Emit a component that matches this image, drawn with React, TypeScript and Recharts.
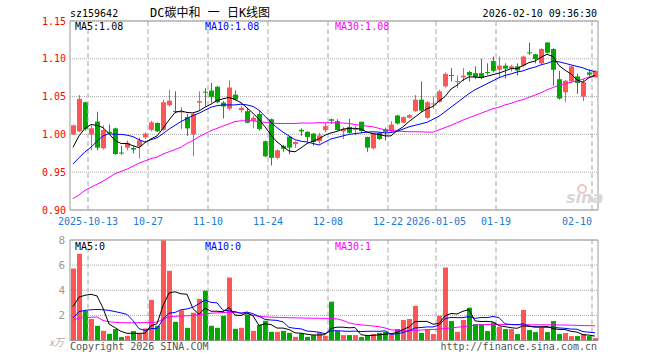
import { Bar, CartesianGrid, ComposedChart, Line, ReferenceArea, ReferenceLine, XAxis, YAxis } from 'recharts';

const dates = [
  '2025-09-30', '2025-10-09', '2025-10-10',
  '2025-10-13', '2025-10-14', '2025-10-15', '2025-10-16', '2025-10-17',
  '2025-10-20', '2025-10-21', '2025-10-22', '2025-10-23', '2025-10-24',
  '2025-10-27', '2025-10-28', '2025-10-29', '2025-10-30', '2025-10-31',
  '2025-11-03', '2025-11-04', '2025-11-05', '2025-11-06', '2025-11-07',
  '2025-11-10', '2025-11-11', '2025-11-12', '2025-11-13', '2025-11-14',
  '2025-11-17', '2025-11-18', '2025-11-19', '2025-11-20', '2025-11-21',
  '2025-11-24', '2025-11-25', '2025-11-26', '2025-11-27', '2025-11-28',
  '2025-12-01', '2025-12-02', '2025-12-03', '2025-12-04', '2025-12-05',
  '2025-12-08', '2025-12-09', '2025-12-10', '2025-12-11', '2025-12-12',
  '2025-12-15', '2025-12-16', '2025-12-17', '2025-12-18', '2025-12-19',
  '2025-12-22', '2025-12-23', '2025-12-24', '2025-12-25', '2025-12-26',
  '2025-12-29', '2025-12-30', '2025-12-31',
  '2026-01-05', '2026-01-06', '2026-01-07', '2026-01-08', '2026-01-09',
  '2026-01-12', '2026-01-13', '2026-01-14', '2026-01-15', '2026-01-16',
  '2026-01-19', '2026-01-20', '2026-01-21', '2026-01-22', '2026-01-23',
  '2026-01-26', '2026-01-27', '2026-01-28', '2026-01-29', '2026-01-30',
  '2026-02-02', '2026-02-03', '2026-02-04', '2026-02-05', '2026-02-06',
  '2026-02-09', '2026-02-10',
];

const openP = [
  1.000, 1.004, 1.0425, 1.000, 1.017, 0.9816, 1.0035, 1.008, 0.976, 0.9825,
  0.982, 0.984, 0.996, 1.006, 1.015, 1.006, 1.0386, 1.031, 1.029, 1.023,
  1.000, 1.042, 1.0565, 1.058, 1.063, 1.042, 1.034, 1.0526, 1.032, 1.0307,
  1.018, 1.027, 0.991, 1.020, 0.969, 0.9846, 0.997, 0.987, 1.006, 1.0035,
  1.001, 0.991, 1.0057, 1.020, 1.0175, 1.004, 1.010, 1.006, 1.0167, 0.9965,
  0.9816, 1.002, 1.0066, 1.0044, 1.025, 1.0154, 1.022, 1.0307, 1.046, 1.022,
  1.040, 1.043, 1.0636, 1.0785, 1.0695, 1.0755, 1.0825, 1.081, 1.081, 1.0825,
  1.097, 1.0855, 1.091, 1.087, 1.090, 1.091, 1.1085, 1.106, 1.094, 1.1215,
  1.113, 1.073, 1.0557, 1.070, 1.0767, 1.050, 1.082, 1.0755,
];
const highP = [
  1.013, 1.052, 1.043, 1.012, 1.030, 1.012, 1.013, 1.009, 0.985, 0.992,
  0.984, 0.996, 1.003, 1.018, 1.016, 1.046, 1.059, 1.057, 1.036, 1.027,
  1.029, 1.057, 1.061, 1.068, 1.064, 1.044, 1.0715, 1.058, 1.038, 1.035,
  1.025, 1.032, 0.992, 1.021, 0.980, 0.986, 0.998, 0.991, 1.008, 1.004,
  1.002, 1.002, 1.015, 1.021, 1.020, 1.0096, 1.0206, 1.011, 1.017, 0.997,
  1.002, 1.003, 1.009, 1.0175, 1.026, 1.024, 1.027, 1.052, 1.070, 1.044,
  1.050, 1.059, 1.082, 1.0877, 1.078, 1.0877, 1.084, 1.090, 1.100, 1.094,
  1.103, 1.103, 1.094, 1.092, 1.094, 1.104, 1.1215, 1.1066, 1.114, 1.122,
  1.114, 1.084, 1.072, 1.091, 1.080, 1.0737, 1.086, 1.085,
];
const lowP = [
  0.999, 1.003, 1.005, 0.979, 0.979, 0.980, 1.000, 0.973, 0.973, 0.979,
  0.975, 0.968, 0.994, 1.004, 1.003, 1.004, 1.037, 1.028, 1.007, 0.998,
  0.971, 1.031, 1.037, 1.042, 1.041, 1.021, 1.032, 1.045, 1.029, 1.015,
  1.008, 1.005, 0.970, 0.959, 0.967, 0.977, 0.974, 0.982, 0.998, 0.990,
  0.985, 0.988, 1.003, 1.014, 1.005, 0.994, 1.001, 0.999, 1.002, 0.977,
  0.980, 0.9925, 0.992, 1.003, 1.013, 1.015, 1.021, 1.030, 1.030, 1.0205,
  1.034, 1.042, 1.062, 1.070, 1.061, 1.070, 1.070, 1.073, 1.073, 1.079,
  1.082, 1.0746, 1.074, 1.083, 1.078, 1.089, 1.105, 1.094, 1.093, 1.107,
  1.0645, 1.046, 1.0425, 1.069, 1.0535, 1.044, 1.077, 1.075,
];
const closeP = [
  1.012, 1.047, 1.007, 1.008, 0.9825, 1.0057, 1.002, 0.974, 0.975, 0.989,
  0.980, 0.992, 1.001, 1.016, 1.004, 1.0425, 1.0447, 1.030, 1.031, 1.008,
  1.027, 1.044, 1.0555, 1.0496, 1.0425, 1.037, 1.062, 1.046, 1.035, 1.0154,
  1.022, 1.007, 0.971, 0.969, 0.979, 0.981, 0.9825, 0.990, 1.004, 0.9965,
  0.990, 0.9987, 1.011, 1.018, 1.0057, 1.007, 1.002, 1.007, 1.0044, 0.9825,
  1.0013, 0.994, 1.0035, 1.013, 1.0145, 1.0228, 1.0254, 1.046, 1.0316, 1.0425,
  1.041, 1.057, 1.080, 1.0775, 1.0705, 1.0776, 1.078, 1.0754, 1.0746, 1.0815,
  1.084, 1.091, 1.087, 1.090, 1.0846, 1.103, 1.1075, 1.0996, 1.113, 1.108,
  1.0855, 1.0474, 1.071, 1.090, 1.068, 1.069, 1.079, 1.084,
];

const ma5 = [
  0.983, 0.998, 1.008, 1.013, 1.012, 1.009, 1.001, 0.992, 0.988, 0.988,
  0.985, 0.9825, 0.989, 0.994, 0.998, 1.008, 1.019, 1.029, 1.031, 1.029,
  1.0285, 1.031, 1.036, 1.040, 1.045, 1.047, 1.049, 1.046, 1.042, 1.035,
  1.028, 1.020, 1.010, 0.999, 0.990, 0.984, 0.978, 0.977, 0.982, 0.988,
  0.991, 0.994, 0.999, 1.002, 1.004, 1.007, 1.008, 1.008, 1.007, 1.003,
  1.001, 1.000, 0.998, 0.998, 1.005, 1.010, 1.017, 1.023, 1.029, 1.034,
  1.037, 1.044, 1.050, 1.060, 1.065, 1.072, 1.076, 1.076, 1.075, 1.077,
  1.079, 1.081, 1.084, 1.087, 1.087, 1.091, 1.095, 1.097, 1.102, 1.106,
  1.103, 1.091, 1.085, 1.080, 1.072, 1.069, 1.075, 1.078,
];
const ma10 = [
  0.961, 0.969, 0.977, 0.983, 0.991, 0.998, 1.001, 1.000, 1.000, 0.999,
  0.997, 0.993, 0.990, 0.993, 0.9955, 1.001, 1.007, 1.012, 1.017, 1.021,
  1.025, 1.028, 1.032, 1.036, 1.038, 1.039, 1.039, 1.039, 1.040, 1.039,
  1.037, 1.032, 1.024, 1.016, 1.009, 1.003, 0.998, 0.993, 0.991, 0.990,
  0.988, 0.986, 0.990, 0.994, 0.996, 0.998, 1.000, 1.001, 1.002, 1.003,
  1.0035, 1.003, 1.002, 1.0025, 1.004, 1.007, 1.010, 1.012, 1.014, 1.016,
  1.020, 1.024, 1.030, 1.036, 1.042, 1.048, 1.054, 1.059, 1.063, 1.067,
  1.071, 1.075, 1.078, 1.080, 1.0825, 1.084, 1.087, 1.089, 1.092, 1.094,
  1.097, 1.096, 1.094, 1.092, 1.090, 1.088, 1.085, 1.083,
];
const ma30 = [
  0.915, 0.920, 0.926, 0.930, 0.934, 0.938, 0.943, 0.948, 0.951, 0.954,
  0.958, 0.962, 0.965, 0.968, 0.970, 0.974, 0.977, 0.980, 0.983, 0.988,
  0.992, 0.997, 1.001, 1.005, 1.008, 1.011, 1.014, 1.017, 1.018, 1.018,
  1.018, 1.017, 1.016, 1.015, 1.0145, 1.0145, 1.0145, 1.0145, 1.015, 1.015,
  1.015, 1.0155, 1.0155, 1.0155, 1.0154, 1.015, 1.0145, 1.013, 1.012, 1.011,
  1.010, 1.008, 1.006, 1.005, 1.0044, 1.004, 1.0035, 1.0035, 1.0035, 1.003,
  1.003, 1.006, 1.009, 1.012, 1.0155, 1.019, 1.022, 1.025, 1.028, 1.031,
  1.034, 1.036, 1.039, 1.041, 1.044, 1.046, 1.049, 1.052, 1.055, 1.059,
  1.062, 1.065, 1.067, 1.069, 1.071, 1.073, 1.076, 1.078,
];

// volume in 万
const volume = [
  5.73, 6.9, 2.37, 1.71, 1.17, 0.77, 0.53, 0.91, 0.27, 0.37,
  0.75, 0.53, 0.96, 3.23, 1.17, 7.97, 5.55, 1.49, 2.4, 1.01,
  2.21, 3.31, 3.97, 1.17, 1.01, 1.97, 5.01, 0.93, 1.01, 2.08,
  0.77, 1.23, 1.57, 0.69, 0.69, 0.77, 0.61, 0.29, 0.56, 0.29,
  0.43, 0.64, 0.37, 3.09, 0.75, 0.43, 0.43, 0.43, 0.27, 0.43,
  0.51, 0.61, 0.69, 0.48, 0.91, 1.63, 1.71, 2.75, 0.61, 0.91,
  0.51, 1.97, 5.81, 1.55, 0.69, 1.63, 2.61, 1.31, 1.31, 0.75,
  1.44, 1.09, 0.91, 0.91, 0.51, 2.43, 0.83, 0.67, 1.01, 0.67,
  1.55, 0.51, 0.59, 0.35, 0.35, 0.51, 0.35, 0.19,
];
const vma5 = [
  2.7, 3.45, 3.6, 3.68, 3.55, 2.58, 1.31, 1.02, 0.73, 0.57,
  0.57, 0.57, 0.58, 1.17, 1.33, 2.77, 3.78, 3.88, 3.72, 3.68,
  2.53, 2.08, 2.58, 2.33, 2.33, 2.29, 2.63, 2.02, 1.99, 2.2,
  1.96, 1.2, 1.33, 1.27, 0.99, 0.99, 0.87, 0.61, 0.58, 0.5,
  0.44, 0.44, 0.46, 0.96, 1.06, 1.06, 1.01, 1.03, 0.46, 0.4,
  0.41, 0.45, 0.5, 0.54, 0.64, 0.86, 1.08, 1.5, 1.52, 1.52,
  1.3, 1.35, 1.96, 2.15, 2.11, 2.33, 2.46, 1.56, 1.51, 1.52,
  1.48, 1.18, 1.1, 1.02, 0.97, 1.17, 1.12, 1.07, 1.09, 1.12,
  0.95, 0.88, 0.87, 0.73, 0.67, 0.46, 0.43, 0.35,
];
const vma10 = [
  1.8, 2.3, 2.4, 2.45, 2.47, 2.45, 2.4, 2.3, 2.2, 2.08,
  1.58, 0.94, 0.8, 0.95, 0.95, 1.67, 2.18, 2.23, 2.45, 2.51,
  2.65, 2.93, 3.23, 3.03, 3.0, 2.41, 2.36, 2.3, 2.16, 2.27,
  2.13, 1.92, 1.68, 1.63, 1.6, 1.48, 1.04, 0.97, 0.93, 0.75,
  0.72, 0.66, 0.54, 0.77, 0.78, 0.75, 0.73, 0.75, 0.71, 0.73,
  0.74, 0.73, 0.77, 0.5, 0.52, 0.64, 0.77, 1.0, 1.03, 1.08,
  1.08, 1.22, 1.73, 1.84, 1.82, 1.82, 1.91, 1.76, 1.83, 1.82,
  1.91, 1.82, 1.33, 1.27, 1.25, 1.33, 1.15, 1.09, 1.06, 1.05,
  1.06, 1.0, 0.97, 0.91, 0.9, 0.71, 0.66, 0.61,
];
const vma30 = [
  1.6, 1.8, 1.82, 1.85, 1.87, 1.6, 1.49, 1.45, 1.42, 1.41,
  1.41, 1.42, 1.42, 1.44, 1.47, 1.7, 1.88, 1.92, 1.95, 1.97,
  2.0, 2.05, 2.12, 2.17, 2.2, 2.23, 2.24, 2.23, 2.2, 2.17,
  2.0, 1.93, 1.88, 1.86, 1.84, 1.82, 1.81, 1.8, 1.79, 1.78,
  1.77, 1.77, 1.76, 1.76, 1.72, 1.6, 1.4, 1.3, 1.25, 1.2,
  1.15, 1.1, 1.0, 0.85, 0.8, 0.77, 0.78, 0.8, 0.83, 0.86,
  0.88, 0.9, 0.96, 1.0, 1.05, 1.1, 1.16, 1.22, 1.25, 1.27,
  1.28, 1.28, 1.28, 1.27, 1.26, 1.25, 1.25, 1.25, 1.25, 1.25,
  1.25, 1.24, 1.23, 1.22, 1.2, 1.19, 1.18, 1.17,
];

const priceTicks = [0.9, 0.95, 1.0, 1.05, 1.1, 1.15];
const volTicks = [0, 2, 4, 6, 8];
const tickDates = ['2025-10-13', '2025-10-27', '2025-11-10', '2025-11-24', '2025-12-08', '2025-12-22', '2026-01-05', '2026-01-19', '2026-02-10'];
const tickTexts = ['2025-10-13', '10-27', '11-10', '11-24', '12-08', '12-22', '2026-01-05', '01-19', '02-10'];

const UP = '#ff5555';
const DOWN = '#00a800';
const MONO = "'DejaVu Sans Mono', monospace";
const GRID = '#aaaaaa';

const rows = dates.map((date, i) => ({
  date,
  open: openP[i],
  high: highP[i],
  low: lowP[i],
  close: closeP[i],
  range: [lowP[i], highP[i]],
  up: closeP[i] >= openP[i],
  vol: volume[i],
  ma5: ma5[i],
  ma10: ma10[i],
  ma30: ma30[i],
  vma5: vma5[i],
  vma10: vma10[i],
  vma30: vma30[i],
}));

const Candle = (props: any) => {
  const { x, y, width, height, payload } = props;
  const { open, close, high, low } = payload;
  const k = height / (high - low);
  const py = (v: number) => y + (high - v) * k;
  const color = close >= open ? UP : DOWN;
  const bx = Math.floor(x);
  const w = Math.round(width);
  const cx = bx + Math.floor(w / 2) + 0.5;
  const top = py(Math.max(open, close));
  const bh = Math.max(1, Math.abs(close - open) * k);
  return (
    <g>
      <line x1={cx} x2={cx} y1={y} y2={y + height} stroke={color} strokeWidth={1} />
      <rect x={bx} y={top} width={w} height={bh} fill={color} />
    </g>
  );
};

const VolBar = (props: any) => {
  const { x, y, width, height, payload } = props;
  return <rect x={Math.floor(x)} y={y} width={Math.round(width)} height={height} fill={payload.up ? UP : DOWN} />;
};

const dateLabel = (text: string, last: boolean) => (props: any) => {
  const vb = props.viewBox;
  return (
    <text x={vb.x} y={vb.y + vb.height + 15} textAnchor={last ? 'end' : 'middle'} fill="#1a7ad6" fontSize={10} fontFamily={MONO}>
      {text}
    </text>
  );
};

const PriceChart = () => (
  <ComposedChart width={660} height={230} data={rows} margin={{ top: 21, right: 62, bottom: 20, left: 0 }}>
    <XAxis dataKey="date" hide />
    <YAxis
      width={70}
      domain={[0.9, 1.15]}
      ticks={priceTicks}
      allowDataOverflow
      tickFormatter={(v: number) => v.toFixed(2)}
      tick={{ fill: '#ff0000', fontSize: 10, fontFamily: MONO }}
      tickLine={false}
      axisLine={false}
      tickSize={0}
      tickMargin={4}
    />
    <CartesianGrid vertical={false} stroke={GRID} strokeDasharray="1 1" />
    {tickDates.map((d, i) => (
      <ReferenceLine
        key={d}
        x={d}
        position="start"
        stroke={GRID}
        strokeDasharray="5 3"
        label={dateLabel(tickTexts[i], i === tickDates.length - 1)}
      />
    ))}
    <ReferenceArea y1={0.9} y2={1.15} fill="none" stroke="#999" strokeWidth={1} />
    <Bar dataKey="range" barSize={5} shape={Candle} isAnimationActive={false} />
    <Line dataKey="ma30" type="linear" stroke="#ff00ff" strokeWidth={1} dot={false} isAnimationActive={false} />
    <Line dataKey="ma10" type="linear" stroke="#0000ff" strokeWidth={1} dot={false} isAnimationActive={false} />
    <Line dataKey="ma5" type="linear" stroke="#000000" strokeWidth={1} dot={false} isAnimationActive={false} />
  </ComposedChart>
);

const VolumeChart = () => (
  <ComposedChart width={660} height={130} data={rows} margin={{ top: 10, right: 62, bottom: 19.5, left: 0 }}>
    <XAxis dataKey="date" hide />
    <YAxis
      width={70}
      domain={[0, 8]}
      ticks={volTicks}
      allowDataOverflow
      tickFormatter={(v: number) => (v === 0 ? '' : String(v))}
      tick={{ fill: '#999', fontSize: 11, fontFamily: MONO }}
      tickLine={false}
      axisLine={false}
      tickSize={0}
      tickMargin={5}
    />
    <CartesianGrid vertical={false} stroke={GRID} strokeDasharray="1 1" />
    {tickDates.map((d) => (
      <ReferenceLine key={d} x={d} position="start" stroke={GRID} strokeDasharray="5 3" />
    ))}
    <ReferenceArea y1={0} y2={8} fill="none" stroke="#999" strokeWidth={1} />
    <Bar dataKey="vol" barSize={5} shape={VolBar} isAnimationActive={false} />
    <Line dataKey="vma30" type="linear" stroke="#ff00ff" strokeWidth={1} dot={false} isAnimationActive={false} />
    <Line dataKey="vma10" type="linear" stroke="#0000ff" strokeWidth={1} dot={false} isAnimationActive={false} />
    <Line dataKey="vma5" type="linear" stroke="#000000" strokeWidth={1} dot={false} isAnimationActive={false} />
  </ComposedChart>
);

export default function App() {
  const last = rows.length - 1;
  return (
    <div style={{ position: 'absolute', left: 0, top: 0, width: 660, height: 360, background: '#fff' }}>
      <div style={{ position: 'absolute', left: 0, top: 0 }}>
        <PriceChart />
      </div>
      <div style={{ position: 'absolute', left: 0, top: 230 }}>
        <VolumeChart />
      </div>
      <svg width={660} height={360} style={{ position: 'absolute', left: 0, top: 0, pointerEvents: 'none' }}>
        <g fontFamily={MONO} fontSize={10}>
          <text x={70} y={17} fill="#000">sz159642</text>
          <text x={597} y={17} fill="#000" textAnchor="end">2026-02-10 09:36:30</text>
          <text x={75} y={30} fill="#000">MA5:{ma5[last].toFixed(2)}</text>
          <text x={205} y={30} fill="#0000ff">MA10:{ma10[last].toFixed(2)}</text>
          <text x={335} y={30} fill="#ff00ff">MA30:{ma30[last].toFixed(2)}</text>
          <text x={75} y={250} fill="#000">MA5:0</text>
          <text x={205} y={250} fill="#0000ff">MA10:0</text>
          <text x={335} y={250} fill="#ff00ff">MA30:1</text>
          <text x={70} y={350} fill="#555">Copyright 2026 SINA.COM</text>
          <text x={597} y={350} fill="#555" textAnchor="end">http://finance.sina.com.cn</text>
        </g>
        <text x={150} y={17} fill="#000" fontSize={12} fontFamily="'DejaVu Sans Mono', 'Noto Sans CJK SC'">DC碳中和 一 日K线图</text>
        <text x={49} y={346} fill="#aaa" fontSize={10} fontStyle="italic" fontFamily="'Noto Sans CJK SC'">x万</text>
        <circle cx={582} cy={189} r={4} fill="none" stroke="#f2c4c4" strokeWidth={2} />
        <text x={566} y={203} fill="#d6d6d6" fontSize={16} fontWeight="bold" fontStyle="italic" fontFamily="'DejaVu Sans'">sina</text>
      </svg>
    </div>
  );
}
